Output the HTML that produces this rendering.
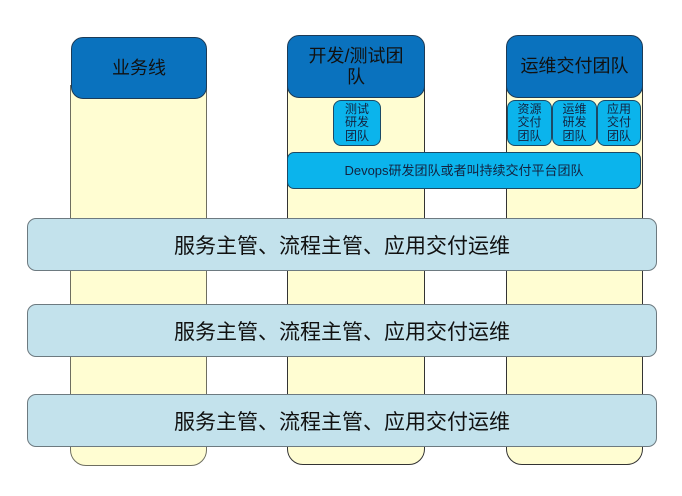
<!DOCTYPE html>
<html><head><meta charset="utf-8">
<style>
html,body{margin:0;padding:0;background:#fff;}
body{width:682px;height:496px;position:relative;overflow:hidden;font-family:"Liberation Sans","Noto Sans CJK SC","WenQuanYi Zen Hei",sans-serif;}
div{box-sizing:border-box;position:absolute;}
.col{background:#FFFDD2;border:1px solid #6e6e60;border-radius:0 0 16px 16px;}
.hdr{background:#0A72BE;border:1px solid #1c3b57;border-radius:12px;color:#111;font-size:18px;text-align:center;display:flex;align-items:center;justify-content:center;line-height:21px;}
.sub{background:#0BB4EC;border:1px solid #1c4a66;border-radius:8px;color:#13223f;font-size:12px;line-height:13.5px;text-align:center;display:flex;align-items:center;justify-content:center;}
.band{background:#C3E2EC;border:1px solid #6d7a80;border-radius:9px;left:27px;width:630px;height:53px;color:#111;font-size:21px;display:flex;align-items:center;justify-content:center;}
</style></head><body>
<div class="col" style="left:70px;top:85px;width:137px;height:381px;"></div>
<div class="col" style="left:287px;top:85px;width:138px;height:380px;border-color:#333;"></div>
<div class="col" style="left:506px;top:85px;width:137px;height:380px;border-color:#333;"></div>

<div class="hdr" style="left:71px;top:37px;width:136px;height:62px;">业务线</div>
<div class="hdr" style="left:287px;top:35px;width:138px;height:63px;padding:0 10px;">开发/测试团<br>队</div>
<div class="hdr" style="left:506px;top:35px;width:137px;height:63px;">运维交付团队</div>

<div class="sub" style="left:333px;top:100px;width:48px;height:46px;">测试<br>研发<br>团队</div>
<div class="sub" style="left:507px;top:100px;width:45px;height:46px;">资源<br>交付<br>团队</div>
<div class="sub" style="left:552px;top:100px;width:45px;height:46px;">运维<br>研发<br>团队</div>
<div class="sub" style="left:597px;top:100px;width:44px;height:46px;">应用<br>交付<br>团队</div>

<div class="sub" style="left:287px;top:152px;width:354px;height:37px;font-size:13px;border-radius:7px;">Devops研发团队或者叫持续交付平台团队</div>

<div class="band" style="top:218px;">服务主管、流程主管、应用交付运维</div>
<div class="band" style="top:304px;">服务主管、流程主管、应用交付运维</div>
<div class="band" style="top:394px;">服务主管、流程主管、应用交付运维</div>
</body></html>
